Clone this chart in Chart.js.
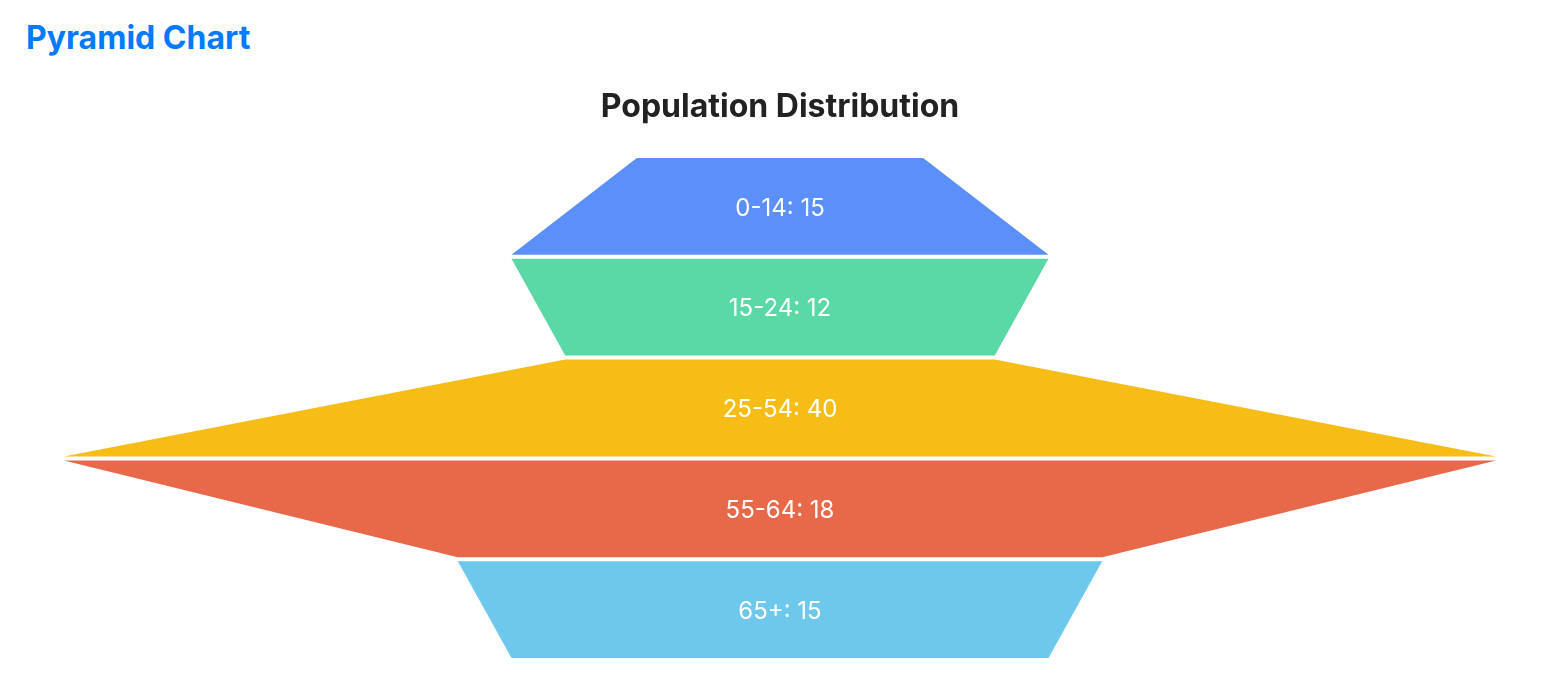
<!DOCTYPE html>
<html>
<head>
<meta charset="utf-8">
<script src="https://cdn.jsdelivr.net/npm/chart.js@4.4.1/dist/chart.umd.min.js"></script>
<style>
  html, body { margin: 0; padding: 0; background: #fff; }
  body { width: 1554px; height: 688px; position: relative; overflow: hidden; font-family: Inter, "Noto Sans", sans-serif; }
  h1 { position: absolute; left: 26px; top: 22px; margin: 0; font-size: 32px; line-height: 32px; font-weight: 700; color: #007bff; font-family: Inter, sans-serif; }
  #wrap { position: absolute; left: 0; top: 0; width: 1554px; height: 688px; }
</style>
</head>
<body>
<h1>Pyramid Chart</h1>
<div id="wrap"><canvas id="c"></canvas></div>
<script>
const categories = ['0-14', '15-24', '25-54', '55-64', '65+'];
const populationValues = [15, 12, 40, 18, 15];
const apexValue = 8; // width at the very top edge of the first band
const segmentColors = ['#5B8FF9', '#5AD8A6', '#F6BD16', '#E8684A', '#6DC8EC'];
const chartTitle = 'Population Distribution';

const maxValue = Math.max(...populationValues);

const trapezoidPlugin = {
  id: 'trapezoids',
  afterDatasetsDraw(chart) {
    const ctx = chart.ctx;
    const xs = chart.scales.x;
    const meta = chart.getDatasetMeta(0);
    ctx.save();
    meta.data.forEach((bar, i) => {
      const props = bar.getProps(['y', 'height'], true);
      const top = props.y - props.height / 2;
      const bottom = props.y + props.height / 2;
      const topVal = i === 0 ? apexValue : populationValues[i - 1];
      const botVal = populationValues[i];
      ctx.beginPath();
      ctx.moveTo(xs.getPixelForValue(-topVal / 2), top);
      ctx.lineTo(xs.getPixelForValue(topVal / 2), top);
      ctx.lineTo(xs.getPixelForValue(botVal / 2), bottom);
      ctx.lineTo(xs.getPixelForValue(-botVal / 2), bottom);
      ctx.closePath();
      ctx.fillStyle = segmentColors[i];
      ctx.fill();
      ctx.fillStyle = '#ffffff';
      ctx.font = '400 24px Inter, "Noto Sans", sans-serif';
      ctx.textAlign = 'center';
      ctx.textBaseline = 'middle';
      ctx.fillText(categories[i] + ': ' + populationValues[i], xs.getPixelForValue(0), props.y + 2);
    });
    ctx.restore();
  }
};

new Chart(document.getElementById('c'), {
  type: 'bar',
  data: {
    labels: categories,
    datasets: [{
      data: populationValues.map(v => [-v / 2, v / 2]),
      backgroundColor: 'rgba(0,0,0,0)',
      borderWidth: 0,
      barPercentage: 0.96,
      categoryPercentage: 1.0
    }]
  },
  options: {
    indexAxis: 'y',
    responsive: true,
    maintainAspectRatio: false,
    animation: false,
    layout: { padding: { left: 64, right: 58, top: 0, bottom: 28 } },
    scales: {
      x: { display: false, min: -maxValue / 2, max: maxValue / 2 },
      y: { display: false }
    },
    plugins: {
      legend: { display: false },
      tooltip: { enabled: false },
      title: {
        display: true,
        text: chartTitle,
        color: '#222222',
        font: { family: 'Inter, "Noto Sans", sans-serif', size: 32, weight: '700' },
        padding: { top: 88.3, bottom: 29.3 }
      }
    }
  },
  plugins: [trapezoidPlugin]
});
</script>
</body>
</html>
